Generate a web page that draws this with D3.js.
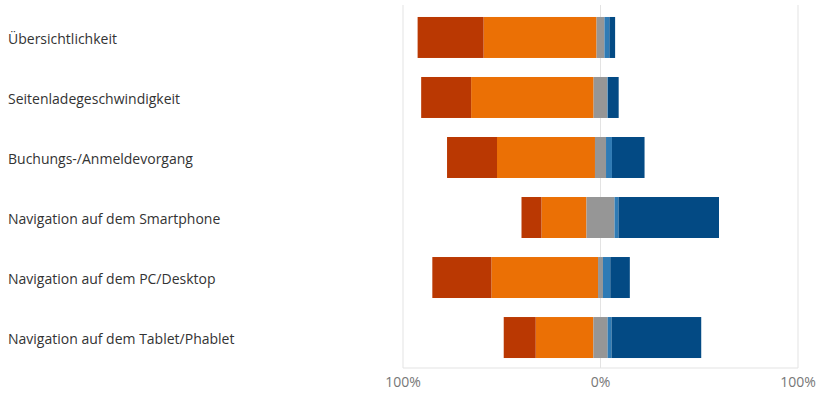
<!DOCTYPE html>
<html>
<head>
<meta charset="utf-8">
<script src="https://cdn.jsdelivr.net/npm/d3@7"></script>
<style>
  body { margin: 0; background: #fff; }
  svg { display: block; font-family: "Open Sans", "Noto Sans", sans-serif; }
</style>
</head>
<body>
<div id="chart"></div>
<script>
// categories, top to bottom
const categories = [
  "Übersichtlichkeit",
  "Seitenladegeschwindigkeit",
  "Buchungs-/Anmeldevorgang",
  "Navigation auf dem Smartphone",
  "Navigation auf dem PC/Desktop",
  "Navigation auf dem Tablet/Phablet"
];

// shares in percent, one array per answer
const sehrSchlecht = [33.4, 25.3, 25.3, 10.1, 29.9, 16.2];
const schlecht     = [57.2, 62.0, 49.6, 22.8, 54.0, 29.2];
const neutral      = [ 4.0,  7.0,  5.6, 14.2,  2.5,  7.2];
const gut          = [ 2.5,  0.3,  3.0,  2.0,  3.7,  2.0];
const sehrGut      = [ 2.9,  5.4, 16.5, 50.9,  9.9, 45.4];

const ticks = [-100, 0, 100];
const colors = ["#ba3802", "#eb7005", "#969696", "#2f7bb5", "#034a84"];

const width = 816;
const height = 393;

const svg = d3.select('#chart')
  .append('svg')
  .attr('width', width)
  .attr('height', height);

const x = d3.scaleLinear()
  .domain([-100, 100])
  .range([403, 798]);

const y = d3.scaleBand()
  .domain(categories)
  .range([7.5, 367.5])
  .paddingInner(0.317)
  .paddingOuter(0.158);

// gridlines
svg.append('g')
  .selectAll('line')
  .data(ticks)
  .join('line')
    .attr('x1', d => x(d)).attr('x2', d => x(d))
    .attr('y1', 5).attr('y2', 368)
    .attr('stroke', '#e3e3e3')
    .attr('stroke-width', 1);

svg.append('line')
  .attr('x1', x(-100)).attr('x2', x(100))
  .attr('y1', 368).attr('y2', 368)
  .attr('stroke', '#e3e3e3');

// segments: negatives stack to the left of half neutral, positives to the right
const rows = categories.map((c, i) => {
  const half = neutral[i] / 2;
  const segs = [];
  let left = -half;
  segs.push({c, k: 1, x0: left - schlecht[i], x1: left});
  left -= schlecht[i];
  segs.push({c, k: 0, x0: left - sehrSchlecht[i], x1: left});
  segs.push({c, k: 2, x0: -half, x1: half});
  let right = half;
  segs.push({c, k: 3, x0: right, x1: right + gut[i]});
  right += gut[i];
  segs.push({c, k: 4, x0: right, x1: right + sehrGut[i]});
  return segs;
}).flat();

svg.append('g')
  .selectAll('rect')
  .data(rows)
  .join('rect')
    .attr('x', d => x(d.x0))
    .attr('width', d => x(d.x1) - x(d.x0))
    .attr('y', d => y(d.c))
    .attr('height', y.bandwidth())
    .attr('fill', d => colors[d.k]);

// category labels
svg.append('g')
  .selectAll('text')
  .data(categories)
  .join('text')
    .attr('x', 8)
    .attr('y', d => y(d) + y.bandwidth() / 2 + 2)
    .attr('dy', '0.35em')
    .attr('font-size', 14)
    .attr('fill', '#333')
    .text(d => d);

// axis labels
svg.append('g')
  .selectAll('text')
  .data(ticks)
  .join('text')
    .attr('x', d => x(d))
    .attr('y', 382)
    .attr('dy', '0.35em')
    .attr('text-anchor', 'middle')
    .attr('font-size', 14)
    .attr('fill', '#777')
    .text(d => Math.abs(d) + '%');
</script>
</body>
</html>
